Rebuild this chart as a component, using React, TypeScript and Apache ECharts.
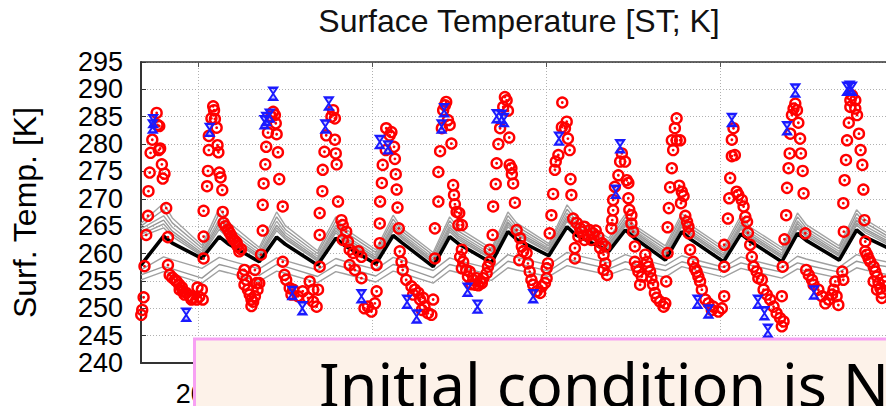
import React, { useEffect, useRef } from "react";
import * as echarts from "echarts";

// Axis ranges (x in days, y in Kelvin)
const X_MIN = 134;
const X_MAX = 1000;
const X_TICKS = [200, 400, 600, 800];
const X_LABELS = [200];
const Y_MIN = 240;
const Y_MAX = 295;
const Y_STEP = 5;

// Sample days shared by the ensemble traces
const LINE_DAYS = [134, 160, 170, 204, 224, 234, 270, 290, 300, 337, 358, 368, 404, 424, 434, 470, 489, 499, 537, 556, 566, 603, 624, 634, 672, 691, 701, 737, 756, 766, 804, 824, 834, 871, 889, 899, 937, 957, 967, 1000];

// Ensemble mean (thick black)
const ENSEMBLE_MEAN = [257.9, 263.2, 261.9, 259.1, 263.1, 261.8, 258.5, 263.0, 261.7, 257.9, 262.8, 261.5, 258.1, 263.3, 262.0, 257.6, 263.1, 261.8, 258.3, 264.0, 262.6, 259.6, 264.9, 263.4, 260.4, 264.3, 262.9, 258.8, 264.0, 262.6, 258.5, 263.6, 262.3, 258.5, 263.7, 262.4, 258.8, 264.3, 263.0, 260.5];

// Ensemble members (thin grey)
const MEMBER_1 = [265.5, 269.2, 266.5, 261.5, 268.3, 265.8, 261.1, 267.6, 265.1, 260.5, 266.7, 264.6, 260.7, 267.0, 264.6, 260.2, 266.7, 264.7, 260.9, 267.6, 265.6, 261.8, 268.9, 266.8, 262.8, 267.2, 265.2, 261.4, 267.4, 265.2, 261.1, 267.0, 264.9, 261.1, 267.4, 265.3, 261.4, 268.0, 266.2, 263.0];
const MEMBER_2 = [265.0, 268.0, 265.6, 261.0, 267.3, 265.0, 260.6, 266.7, 264.4, 260.0, 265.9, 264.0, 260.2, 266.3, 264.1, 259.7, 266.0, 264.1, 260.4, 266.9, 265.0, 261.4, 268.1, 266.1, 262.3, 266.6, 264.7, 260.9, 266.7, 264.7, 260.6, 266.3, 264.4, 260.6, 266.7, 264.7, 260.9, 267.3, 265.6, 262.5];
const MEMBER_3 = [264.5, 266.9, 264.8, 260.5, 266.3, 264.3, 260.1, 265.9, 263.8, 259.5, 265.2, 263.4, 259.7, 265.6, 263.6, 259.2, 265.3, 263.6, 259.9, 266.2, 264.5, 261.0, 267.4, 265.5, 261.9, 266.1, 264.3, 260.4, 266.1, 264.2, 260.1, 265.7, 263.9, 260.1, 266.0, 264.2, 260.4, 266.6, 265.0, 262.1];
const MEMBER_4 = [264.0, 266.1, 264.1, 260.1, 265.6, 263.7, 259.7, 265.2, 263.3, 259.1, 264.7, 263.0, 259.3, 265.1, 263.2, 258.8, 264.8, 263.2, 259.5, 265.7, 264.0, 260.7, 266.8, 265.0, 261.6, 265.7, 264.0, 260.0, 265.6, 263.8, 259.7, 265.2, 263.5, 259.7, 265.5, 263.8, 260.0, 266.1, 264.5, 261.7];
const MEMBER_5 = [263.5, 265.4, 263.6, 259.8, 265.0, 263.2, 259.4, 264.7, 262.9, 258.8, 264.2, 262.6, 259.0, 264.6, 262.9, 258.5, 264.4, 262.8, 259.2, 265.3, 263.7, 260.4, 266.3, 264.6, 261.3, 265.3, 263.7, 259.7, 265.2, 263.5, 259.4, 264.8, 263.2, 259.4, 265.0, 263.4, 259.7, 265.6, 264.2, 261.4];
const MEMBER_6 = [263.1, 264.7, 263.1, 259.6, 264.4, 262.8, 259.2, 264.2, 262.6, 258.6, 263.8, 262.3, 258.8, 264.2, 262.7, 258.3, 264.0, 262.5, 259.0, 264.9, 263.4, 260.2, 265.9, 264.3, 261.0, 265.0, 263.5, 259.5, 264.9, 263.3, 259.2, 264.5, 263.0, 259.2, 264.6, 263.1, 259.5, 265.2, 263.8, 261.1];
const MEMBER_7 = [257.0, 259.4, 258.9, 257.3, 259.3, 258.8, 257.2, 259.2, 258.7, 257.0, 259.1, 258.6, 257.1, 259.3, 258.8, 256.9, 259.2, 258.7, 257.2, 259.8, 259.3, 257.9, 260.2, 259.7, 258.3, 259.8, 259.3, 257.8, 259.6, 259.1, 257.5, 259.4, 258.9, 257.4, 259.5, 259.0, 257.5, 259.8, 259.3, 258.2];
const MEMBER_8 = [256.1, 257.6, 257.2, 255.5, 258.0, 257.6, 256.0, 258.0, 257.6, 255.8, 257.9, 257.5, 255.9, 258.0, 257.6, 255.6, 258.0, 257.6, 256.1, 258.6, 258.2, 256.8, 259.0, 258.6, 257.2, 258.5, 258.1, 256.9, 258.5, 258.1, 256.8, 258.3, 257.9, 256.6, 258.3, 257.9, 256.6, 258.6, 258.2, 257.4];
const MEMBER_9 = [255.2, 256.7, 256.3, 254.6, 256.9, 256.5, 254.9, 256.8, 256.4, 254.7, 256.7, 256.3, 254.8, 256.8, 256.4, 254.6, 256.9, 256.5, 255.1, 257.4, 257.0, 255.8, 257.8, 257.4, 256.1, 257.2, 256.8, 255.7, 257.6, 257.2, 255.7, 257.3, 256.9, 255.5, 257.2, 256.8, 255.5, 257.4, 257.0, 255.9];

// Surface observations [day, K] (red open circles)
const OBS_POINTS: [number, number][] = [
  [152, 285.7], [153, 283.5], [155, 283.3], [147, 280.8], [145, 278.4], [156, 279.2], [154.5, 278.9], [144, 274.8], [158, 276.3], [161, 274.6], [159, 273.7], [142.6, 271.4], [142, 266.9], [163, 268.3], [140, 263.4], [165, 263.0], [138, 257.7], [165, 257.9], [137, 252.0], [135.4, 249.7], [134.3, 248.8],
  [167, 256.1], [170, 255.6], [173, 255.2], [175, 254.9], [178, 254.3], [178.5, 253.4], [181, 253.8], [182, 253.1], [184, 252.5], [186, 252.8], [190, 252.3], [192, 251.6], [193, 251.9], [198, 251.6], [199, 253.8], [201, 252.1], [204, 253.4], [205, 251.6],
  [206, 267.8], [206, 263.1], [206, 259.1], [217, 286.9], [218, 286.2], [215, 284.7], [219, 284.6], [221, 283.0], [212, 281.5], [222, 279.8], [223, 278.5], [212, 278.9], [211, 275.1], [224, 274.8], [225.5, 273.9], [210, 272.3], [227.5, 271.6], [228, 267.6],
  [229, 265.6], [231, 265.0], [234, 264.4], [236, 263.8], [238, 263.2], [240, 262.6], [242, 262.3], [244, 262.0], [245, 261.4], [247, 260.4], [249, 260.8],
  [253, 257.0], [251, 256.1], [255, 255.2], [253, 254.3], [257, 253.4], [259, 252.5], [261, 251.6], [261, 250.4], [265, 257.0], [267, 254.6], [268, 253.4], [265, 252.2], [263, 251.2], [270, 254.6],
  [274, 268.9], [274, 264.2], [272, 259.8], [286, 285.9], [288, 285.3], [284, 285.0], [289, 283.8], [280, 282.1], [290, 281.8], [278, 279.5], [291.5, 278.5], [277, 276.3], [275, 272.8], [293, 273.6], [297, 268.6], [297, 258.5],
  [299, 256.1], [301, 255.2], [305, 253.7], [309, 253.4], [307, 252.5], [314.5, 252.2], [320, 253.1], [328, 254.9], [332, 253.4], [337.6, 253.4], [326, 251.9], [332, 251.2], [336, 250.3],
  [339.5, 267.4], [339.5, 263.4], [339.5, 257.6], [355, 286.2], [353, 285.0], [357, 284.7], [347, 281.6], [357, 280.8], [345, 278.6], [358, 278.3], [359, 276.3], [343, 275.3], [342.6, 271.4], [360.6, 269.5], [364.5, 266.1], [366, 265.2], [370, 264.0],
  [366, 262.5], [372, 262.2], [374, 260.7], [378, 260.1], [384, 260.4], [387.5, 259.4], [374, 257.9], [380, 257.0], [387.5, 255.5], [405, 253.1], [403, 250.9], [395, 250.3], [399, 249.4], [391, 250.0],
  [405, 257.9], [408.6, 261.9], [408.6, 265.5], [409, 269.5], [416, 282.9], [420, 281.6], [422, 282.2], [415.5, 278.9], [425, 279.5], [412, 276.2], [426, 277.3], [427, 274.5], [411, 272.9], [428, 271.7], [429, 268.4], [430.5, 264.6],
  [431.6, 260.4], [433.6, 258.5], [435, 257.0], [439, 255.2], [445, 254.0], [449, 253.4], [453, 252.8], [447, 252.5], [455, 251.6], [458.5, 251.9], [460, 250.3], [457, 249.7], [464, 249.1], [468, 248.8], [470, 251.6], [472, 264.6], [472, 259.1], [476, 269.5],
  [485, 287.7], [483.5, 287.1], [481.5, 286.2], [487, 284.4], [489, 283.5], [480, 282.9], [491, 280.1], [478, 278.7], [476, 274.9], [493, 272.5], [494, 270.7], [495, 269.0], [497, 267.6], [500, 267.4], [499, 265.2], [503, 265.2],
  [503, 260.7], [501, 259.4], [504.5, 258.5], [503, 257.3], [508, 257.0], [510, 255.8], [512, 256.7], [514, 254.4], [516, 255.2], [518, 254.3], [520, 255.5], [522, 254.2], [524, 254.9], [526, 254.6], [527.6, 255.5], [531.5, 256.4], [533, 257.6], [535, 258.5], [535, 260.7],
  [539, 268.6], [538.4, 263.4], [552.5, 288.6], [554.5, 288.0], [550.6, 286.8], [556, 286.1], [547, 282.9], [557.5, 281.2], [545, 280.0], [543, 276.5], [558, 276.2], [560, 275.6], [560.5, 274.5], [562, 272.8], [542, 272.7], [564, 269.3], [566, 264.3],
  [570, 262.8], [572, 261.3], [573.6, 260.4], [577.5, 260.1], [569, 258.8], [579, 258.2], [581, 256.7], [583, 255.2], [585, 254.3], [589, 253.1], [593, 252.8], [595, 254.0], [598.6, 254.6], [600.5, 255.5], [600.5, 257.3], [602, 258.2], [604, 263.7], [606, 267.0],
  [618.5, 287.6], [623.6, 284.1], [618, 283.1], [621.6, 282.9], [625, 281.0], [614, 278.0], [611, 276.8], [610, 275.3], [627, 278.9], [628, 273.6], [608, 270.9], [629, 270.7], [631, 266.4],
  [633, 261.0], [633, 259.1], [635, 265.6], [637, 263.1], [639, 264.6], [641, 264.0], [644, 264.9], [644, 262.5], [648, 263.4], [650, 264.3], [652, 262.5], [654, 263.7], [657, 264.2], [660, 263.1], [662, 261.0], [664, 261.9], [668, 261.3], [666, 259.8], [668, 258.2], [666, 257.0], [670, 256.1],
  [687, 278.3], [685, 276.8], [690.7, 276.8], [683, 274.3], [692.6, 273.4], [694.5, 272.9], [679, 272.2], [694.5, 270.1], [677, 269.8], [695.6, 268.0], [677, 267.9], [698, 267.0], [698, 265.5], [676, 266.1], [675, 264.6], [700, 264.0],
  [702, 261.3], [702, 258.5], [704, 257.6], [706, 256.7], [710, 255.8], [708, 254.3], [714, 259.8], [716, 258.5], [717.5, 257.6], [719.5, 256.7], [721, 255.5], [723, 254.3], [725, 252.8], [727, 251.9], [731, 251.2], [737, 250.9], [735, 250.3], [741, 268.3], [739.6, 264.8], [739.6, 260.1], [738, 254.9],
  [750, 284.7], [748, 282.9], [744.5, 280.7], [750, 280.7], [754, 280.7], [746, 278.9], [744.5, 275.6], [742.5, 272.1], [753, 272.4], [756, 271.3], [758, 270.5], [755, 269.2], [760, 266.9], [762, 265.8], [763.6, 264.9], [764, 263.7],
  [765.5, 260.7], [769, 258.5], [771, 257.3], [773, 256.7], [775, 255.8], [777, 254.9], [779, 253.4], [783, 251.6], [786.6, 250.9], [792, 250.3], [798, 249.4], [802, 250.0], [790.5, 249.7], [804.7, 261.6], [804.7, 257.6], [804.7, 252.2],
  [815.4, 282.9], [813.5, 280.8], [813.5, 277.8], [817, 278.0], [811.6, 273.8], [810.5, 270.1], [819, 271.3], [821, 270.7], [825, 269.8], [827, 268.6], [809, 266.4], [829, 266.7], [831, 265.8], [832, 263.8],
  [834.6, 261.6], [836.5, 259.4], [838.6, 257.6], [842, 256.7], [844, 255.5], [848, 255.2], [850, 253.4], [853.7, 252.5], [857.6, 251.6], [861.5, 250.3], [865, 249.1], [869, 248.2], [871, 246.7], [873, 247.6], [876, 267.0], [874, 262.6], [872, 257.6], [871, 252.2],
  [886.5, 287.4], [884.5, 286.5], [888.4, 286.2], [882.6, 285.3], [890, 283.9], [880.7, 281.9], [892, 281.0], [880, 278.3], [893, 278.3], [878.7, 275.6], [895, 275.1], [877, 272.0], [896, 271.0], [898, 263.7],
  [899, 257.0], [902, 256.1], [905.7, 255.2], [907.5, 254.3], [913, 253.4], [917, 252.2], [921, 250.9], [925, 251.6], [928.7, 252.5], [930.5, 253.4], [934, 252.2], [936, 250.6], [932.5, 254.9], [941.7, 269.2], [942.3, 264.0], [940.5, 256.7], [941.7, 255.2],
  [951.7, 288.9], [955.5, 288.0], [949.8, 288.0], [949.8, 286.8], [955.5, 286.5], [957.5, 285.3], [948, 283.9], [959.7, 281.9], [946, 280.7], [961.6, 278.9], [944.8, 277.1], [963.6, 276.2], [943.2, 273.4], [964.8, 271.7], [966, 266.1],
  [967, 262.2], [967, 260.4], [969, 259.8], [970.8, 259.1], [972.8, 258.5], [976.6, 257.6], [978.5, 256.7], [980.5, 255.8], [982.3, 254.6], [984.3, 253.7], [986, 252.8], [986, 251.9], [976.6, 254.9], [980.5, 253.4], [989.5, 254.9],
];

// Station measurements [day, K] (blue markers)
const STATION_POINTS: [number, number][] = [
  [148, 284.2], [147.5, 283.2], [186, 248.8], [213, 282.6], [286, 289.2], [278, 284.6], [282, 285.2], [276, 284.0], [308, 252.8], [319.6, 250.0],
  [350, 287.4], [346, 283.2], [387.5, 252.2], [408.6, 280.4], [418, 279.4], [440, 251.2], [451, 248.5], [482.6, 286.2], [479.7, 283.2], [509.6, 253.4],
  [521, 250.3], [543, 285.1], [548.7, 285.0], [551.4, 284.4], [585, 252.2], [614.7, 281.0], [685, 279.6], [680, 271.3], [774, 251.2], [786.6, 249.4],
  [813.5, 284.4], [843.5, 251.2], [851, 249.1], [855, 245.9], [886.5, 289.8], [877, 282.9], [908, 252.9], [946, 290.1], [949, 290.3], [951.7, 290.1],
];

const FONT = "'Liberation Sans', Arial, Helvetica, sans-serif";
const GRID_LINE = { color: "#b0b0b0", width: 1, type: [1, 2] as number[] };
const HOURGLASS = "path://M0,0L10,0L0,14L10,14Z";

function memberSeries(values: number[], color: string) {
  return {
    type: "line",
    data: LINE_DAYS.map((d, i) => [d, values[i]]),
    showSymbol: false,
    symbol: "none",
    silent: true,
    lineStyle: { color, width: 1.4 },
    z: 2,
  };
}

export default function App() {
  const ref = useRef<HTMLDivElement>(null);

  useEffect(() => {
    if (!ref.current) return;
    const chart = echarts.init(ref.current, null, { renderer: "svg" });
    const option = {
      animation: false,
      backgroundColor: "#ffffff",
      title: {
        text: "Surface Temperature [ST; K]",
        left: 519,
        top: 5,
        padding: 0,
        textAlign: "center",
        textStyle: { fontFamily: FONT, fontSize: 32, fontWeight: "normal", color: "#111" },
      },
      grid: { left: 141, top: 62, right: -8, bottom: 43, containLabel: false, outerBoundsMode: "none" },
      xAxis: [
        {
          type: "value",
          min: X_MIN,
          max: X_MAX,
          position: "bottom",
          axisLine: { show: true, onZero: false, lineStyle: { color: "#333", width: 2 } },
          axisTick: { show: true, inside: true, length: 5, customValues: X_TICKS, lineStyle: { color: "#333" } },
          axisLabel: { show: true, customValues: X_LABELS, fontFamily: FONT, fontSize: 27, color: "#000", margin: 17 },
          splitLine: { show: true, lineStyle: GRID_LINE },
        },
        {
          type: "value",
          min: X_MIN,
          max: X_MAX,
          position: "top",
          axisLine: { show: true, onZero: false, lineStyle: { color: "#333", width: 1.5 } },
          axisTick: { show: true, inside: true, length: 5, customValues: X_TICKS, lineStyle: { color: "#555" } },
          axisLabel: { show: false },
          splitLine: { show: false },
        },
      ],
      yAxis: {
        type: "value",
        min: Y_MIN,
        max: Y_MAX,
        interval: Y_STEP,
        name: "Surf. Temp. [K]",
        nameLocation: "middle",
        nameGap: 100,
        nameTextStyle: { fontFamily: FONT, fontSize: 32, color: "#000" },
        axisLine: { show: true, lineStyle: { color: "#333", width: 2 } },
        axisTick: { show: true, inside: true, length: 5, lineStyle: { color: "#333" } },
        axisLabel: { fontFamily: FONT, fontSize: 27, color: "#000", margin: 18 },
        splitLine: { show: true, lineStyle: GRID_LINE },
      },
      series: [
        memberSeries(MEMBER_1, "#a4a4a4"),
        memberSeries(MEMBER_2, "#9a9a9a"),
        memberSeries(MEMBER_3, "#a8a8a8"),
        memberSeries(MEMBER_4, "#969696"),
        memberSeries(MEMBER_5, "#a0a0a0"),
        memberSeries(MEMBER_6, "#9c9c9c"),
        memberSeries(MEMBER_7, "#a0a0a0"),
        memberSeries(MEMBER_8, "#989898"),
        memberSeries(MEMBER_9, "#a0a0a0"),
        {
          type: "line",
          data: LINE_DAYS.map((d, i) => [d, ENSEMBLE_MEAN[i]]),
          showSymbol: false,
          symbol: "none",
          silent: true,
          lineStyle: { color: "#000", width: 3.6 },
          z: 3,
        },
        {
          type: "scatter",
          data: OBS_POINTS,
          symbol: "circle",
          symbolSize: 10,
          clip: false,
          silent: true,
          itemStyle: { color: "rgba(0,0,0,0)", borderColor: "#ff0000", borderWidth: 2.4, opacity: 1 },
          z: 4,
        },
        {
          type: "scatter",
          data: OBS_POINTS,
          symbol: "circle",
          symbolSize: 2.8,
          clip: false,
          silent: true,
          itemStyle: { color: "#ff0000", opacity: 1 },
          z: 4,
        },
        {
          type: "scatter",
          data: STATION_POINTS,
          symbol: HOURGLASS,
          symbolSize: [8, 12],
          clip: false,
          silent: true,
          itemStyle: { color: "rgba(40,40,255,0.25)", borderColor: "#1a1aff", borderWidth: 2, opacity: 1 },
          z: 5,
        },
      ],
      graphic: [
        {
          type: "rect",
          z: 100,
          silent: true,
          shape: { x: 194.5, y: 339, width: 800, height: 200 },
          style: { fill: "#fdf2e9", stroke: "#f7a0f3", lineWidth: 3 },
        },
        {
          type: "text",
          z: 101,
          silent: true,
          x: 319,
          y: 383,
          style: {
            text: "Initial condition is N",
            fontFamily: "'Noto Sans', 'Open Sans', sans-serif",
            fontSize: 61,
            fill: "#000",
            align: "left",
            verticalAlign: "middle",
          },
        },
      ],
    };
    chart.setOption(option as any);
    return () => chart.dispose();
  }, []);

  return (
    <div
      ref={ref}
      style={{ position: "absolute", left: 0, top: 0, width: 886, height: 406, background: "#fff" }}
    />
  );
}
